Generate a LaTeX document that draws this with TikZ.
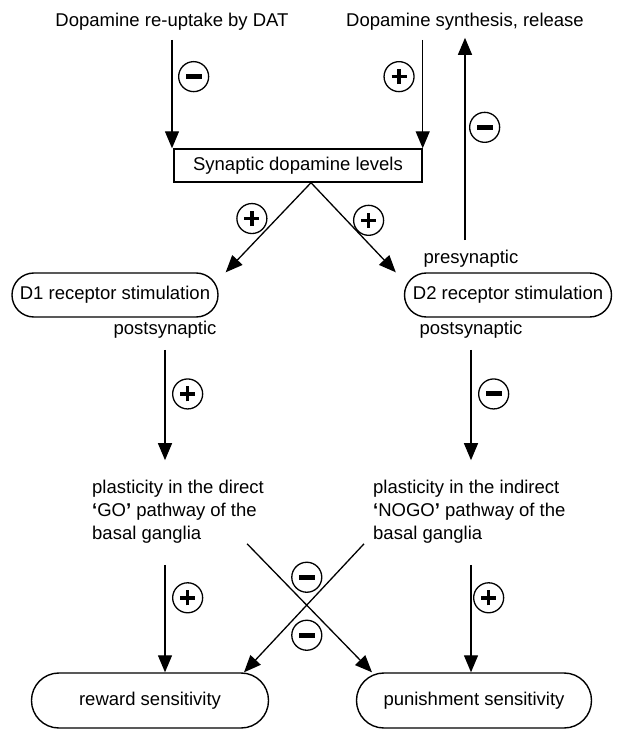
\documentclass[tikz,border=0pt]{standalone}
\usepackage{fontspec}
\setmainfont{Liberation Sans}
\usetikzlibrary{arrows.meta, calc}
\tikzset{
    levelbox/.style={draw, line width=1.4pt, minimum width=248pt, minimum height=33pt, inner sep=0pt},
    roundbox/.style={draw, line width=1.4pt, inner sep=0pt},
    plain/.style={inner sep=0pt},
    flow/.style={line width=1.3pt, -{Triangle[length=17pt, width=14pt]}},
    signbase/.style={circle, draw, line width=1.3pt, minimum size=30pt, inner sep=0pt},
    plussign/.style={signbase, path picture={
        \draw[arrows=-, shorten <=0pt, shorten >=0pt, line width=3.5pt]
            ($(path picture bounding box.center)+(-7.5pt,0pt)$) -- ++(15pt,0pt)
            ($(path picture bounding box.center)+(0pt,-7.5pt)$) -- ++(0pt,15pt);}},
    minussign/.style={signbase, path picture={
        \fill ($(path picture bounding box.center)+(-8pt,-2.5pt)$) rectangle ++(16pt,5pt);}}
}
\begin{document}
\begin{tikzpicture}[x=1pt, y=-1pt, font=\fontsize{18.5}{23}\selectfont]
    \useasboundingbox (0,0) rectangle (618,730);
    % Dopamine inputs
    \node[plain] (uptake) at (172,22) {Dopamine re-uptake by DAT};
    \node[plain] (synth) at (465,22) {Dopamine synthesis, release};
    \node[levelbox] (levels) at (298,165.5) {Synaptic dopamine levels};
    % Receptors
    \node[roundbox, rounded corners=21.9pt, minimum width=206pt, minimum height=44pt] (d1) at (115,295) {D1 receptor stimulation};
    \node[roundbox, rounded corners=21.9pt, minimum width=207pt, minimum height=44pt] (d2) at (508,295) {D2 receptor stimulation};
    \node[plain] (pre) at (471,259) {presynaptic};
    \node[plain] (post1) at (165,330) {postsynaptic};
    \node[plain] (post2) at (471,330) {postsynaptic};
    % Pathways
    \node[plain, align=left, anchor=west] (direct) at (92,512) {plasticity in the direct\\\textbf{‘}GO\textbf{’} pathway of the\\basal ganglia};
    \node[plain, align=left, anchor=west] (indirect) at (373,512) {plasticity in the indirect\\\textbf{‘}NOGO\textbf{’} pathway of the\\basal ganglia};
    % Outcomes
    \node[roundbox, rounded corners=27.4pt, minimum width=237pt, minimum height=55pt] (rew) at (150,700.5) {reward sensitivity};
    \node[roundbox, rounded corners=27.4pt, minimum width=235pt, minimum height=55pt] (pun) at (474,700.5) {punishment sensitivity};
    % Arrows into synaptic levels
    \draw[flow, shorten <=9pt] (uptake.south) -- (uptake.south |- levels.north)
        node[pos=0.39, right=6pt, minussign] (s1) {};
    \draw[flow, shorten <=9pt] (levels.north east |- synth.south) -- (levels.north east)
        node[pos=0.39, left=8pt, plussign] (s2) {};
    \draw[flow, shorten <=10pt, shorten >=7pt] (synth.south |- pre.north) -- (synth.south)
        node[pos=0.56, right=4pt, minussign] (s3) {};
    % Arrows to receptors
    \coordinate (apex) at ([xshift=13pt]levels.south);
    \draw[flow] (apex) -- ([xshift=7pt]d1.north east)
        node[pos=0.4, xshift=-25pt, plussign] (s4) {};
    \draw[flow] (apex) -- ([xshift=-8pt]d2.north west)
        node[pos=0.42, xshift=22pt, plussign] (s5) {};
    % Arrows to pathways
    \draw[flow, shorten <=11pt, shorten >=20pt] (post1.south) -- (post1.south |- direct.north)
        node[pos=0.39, right=7pt, plussign] (s6) {};
    \draw[flow, shorten <=11pt, shorten >=20pt] (post2.south) -- (post2.south |- indirect.north)
        node[pos=0.39, right=7pt, minussign] (s7) {};
    % Arrows to outcomes
    \draw[flow, shorten <=21pt] (post1.south |- direct.south) -- (post1.south |- rew.north)
        node[pos=0.42, right=7pt, plussign] (s8) {};
    \draw[flow, shorten <=21pt] (post2.south |- indirect.south) -- (post2.south |- pun.north)
        node[pos=0.42, right=2pt, plussign] (s9) {};
    \coordinate (gostart) at ([xshift=-17pt]direct.south east);
    \coordinate (nogostart) at ([xshift=-9pt]indirect.south west);
    \coordinate (gotip) at ([xshift=-102pt]pun.north);
    \coordinate (nogotip) at ([xshift=94pt]rew.north);
    \draw[flow] (gostart) -- (gotip);
    \draw[flow] (nogostart) -- (nogotip);
    \coordinate (cross) at (intersection of gostart--gotip and nogostart--nogotip);
    \node[minussign] (s10) at ([yshift=28pt]cross) {};
    \node[minussign] (s11) at ([yshift=-30pt]cross) {};
\end{tikzpicture}
\end{document}
